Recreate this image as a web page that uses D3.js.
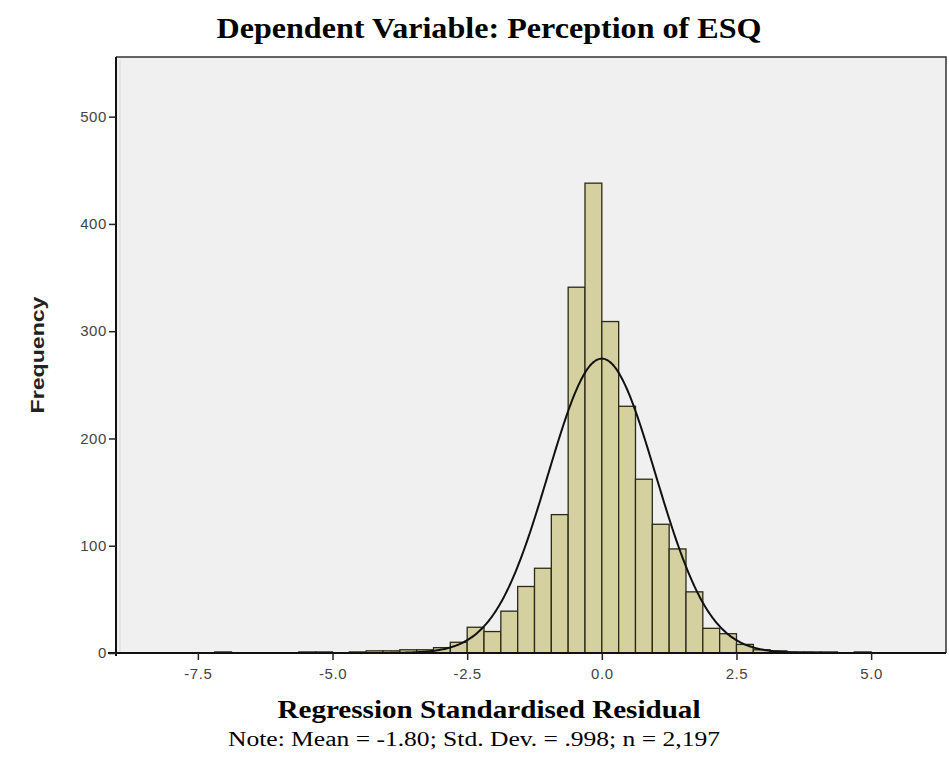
<!DOCTYPE html>
<html>
<head>
<meta charset="utf-8">
<script src="https://cdn.jsdelivr.net/npm/d3@7/dist/d3.min.js"></script>
<style>
  html, body { margin: 0; padding: 0; background: #ffffff; }
  svg { display: block; }
</style>
</head>
<body>
<svg id="chart" width="949" height="760"></svg>
<script>
// ---- data ----
const binWidth = 0.3125;
const binLower = [-7.1875, -5.625, -5.3125, -4.6875, -4.375, -4.0625, -3.75, -3.4375, -3.125, -2.8125,
                  -2.5, -2.1875, -1.875, -1.5625, -1.25, -0.9375, -0.625, -0.3125,
                  0, 0.3125, 0.625, 0.9375, 1.25, 1.5625, 1.875, 2.1875,
                  2.5, 2.8125, 3.125, 3.4375, 3.75, 4.0625, 4.6875];
const counts   = [1, 1, 1, 1, 2, 2, 3, 3, 5, 10,
                  24, 20, 39, 62, 79, 129, 341, 438,
                  309, 230, 162, 120, 97, 57, 23, 18,
                  8, 3, 2, 1, 1, 1, 1];
const xTicks = [-7.5, -5.0, -2.5, 0.0, 2.5, 5.0];
const xTickLabels = ["-7.5", "-5.0", "-2.5", "0.0", "2.5", "5.0"];
const yTicks = [0, 100, 200, 300, 400, 500];
const fitMean = 0.0;      // -1.80E-15, effectively zero
const fitSD = 0.998;
const fitN = 2197;
const titleText = "Dependent Variable: Perception of ESQ";
const xLabelText = "Regression Standardised Residual";
const noteText = "Note:  Mean = -1.80; Std. Dev. = .998; n = 2,197";
const yLabelText = "Frequency";

// ---- layout ----
const svg = d3.select("#chart");
const L = 116, R = 946, T = 57, B = 653;

const x = d3.scaleLinear().domain([-9.02, 6.39]).range([L, R]);
const y = d3.scaleLinear().domain([0, 555.6]).range([B, T]);

// plot background
svg.append("rect")
  .attr("x", L).attr("y", T).attr("width", R - L).attr("height", B - T)
  .attr("fill", "#f0f0f0");

// faint inner line beside the y axis
svg.append("line")
  .attr("x1", L + 4).attr("x2", L + 4).attr("y1", T + 3).attr("y2", B)
  .attr("stroke", "#d8d8d8").attr("stroke-width", 1);

// frame (top & right)
svg.append("path")
  .attr("d", `M${L},${T}H${R}V${B}`)
  .attr("fill", "none").attr("stroke", "#333").attr("stroke-width", 1.5);

// bars
const bins = binLower.map((b, i) => ({x0: b, x1: b + binWidth, n: counts[i]}));
svg.append("g").selectAll("rect").data(bins).join("rect")
  .attr("x", d => x(d.x0))
  .attr("y", d => y(d.n))
  .attr("width", d => x(d.x1) - x(d.x0))
  .attr("height", d => y(0) - y(d.n))
  .attr("fill", "#d5d0a0")
  .attr("stroke", "#2b2a18")
  .attr("stroke-width", 1.3);

// normal curve
const pdf = v => fitN * binWidth / (fitSD * Math.sqrt(2 * Math.PI)) *
                 Math.exp(-0.5 * Math.pow((v - fitMean) / fitSD, 2));
const xs = d3.range(-9.02, 6.39, 0.02);
svg.append("path")
  .datum(xs)
  .attr("d", d3.line().x(v => x(v)).y(v => y(pdf(v))).curve(d3.curveBasis))
  .attr("fill", "none").attr("stroke", "#111").attr("stroke-width", 2);

// axes
const tickFont = "Arial, 'Liberation Sans', sans-serif";
const xAxis = d3.axisBottom(x).tickValues(xTicks)
  .tickFormat((d, i) => xTickLabels[i]).tickSize(7).tickPadding(8);
const gx = svg.append("g").attr("transform", `translate(0,${B})`).call(xAxis);
gx.select(".domain").attr("d", `M${L - 8},0H${R}`).attr("stroke", "#111").attr("stroke-width", 2);
gx.selectAll(".tick line").attr("stroke", "#222").attr("stroke-width", 1.5);
gx.selectAll("text").attr("font-family", tickFont)
  .attr("font-size", 15).attr("letter-spacing", 0.6).attr("fill", "#444");

const yAxis = d3.axisLeft(y).tickValues(yTicks).tickFormat(d3.format("d")).tickSize(7).tickPadding(2);
const gy = svg.append("g").attr("transform", `translate(${L},0)`).call(yAxis);
gy.select(".domain").attr("d", `M0,${T}V${B + 3}`).attr("stroke", "#111").attr("stroke-width", 2);
gy.selectAll(".tick line").attr("stroke", "#222").attr("stroke-width", 1.5);
gy.selectAll("text").attr("font-family", tickFont)
  .attr("font-size", 15).attr("letter-spacing", 0.6).attr("fill", "#444");

// titles
svg.append("text")
  .attr("x", 489).attr("y", 38)
  .attr("text-anchor", "middle")
  .attr("font-family", "'Liberation Serif', 'Times New Roman', serif")
  .attr("font-weight", "bold").attr("font-size", 30)
  .attr("textLength", 545).attr("lengthAdjust", "spacingAndGlyphs")
  .text(titleText);

svg.append("text")
  .attr("x", 489).attr("y", 718)
  .attr("text-anchor", "middle")
  .attr("font-family", "'Liberation Serif', 'Times New Roman', serif")
  .attr("font-weight", "bold").attr("font-size", 25)
  .attr("textLength", 423).attr("lengthAdjust", "spacingAndGlyphs")
  .text(xLabelText);

svg.append("text")
  .attr("x", 474).attr("y", 746)
  .attr("text-anchor", "middle")
  .attr("font-family", "'Liberation Serif', 'Times New Roman', serif")
  .attr("font-size", 20)
  .attr("textLength", 492).attr("lengthAdjust", "spacingAndGlyphs")
  .text(noteText);

svg.append("text")
  .attr("transform", "translate(44,355) rotate(-90)")
  .attr("text-anchor", "middle")
  .attr("font-family", "Arial, 'Liberation Sans', sans-serif")
  .attr("font-weight", "bold").attr("font-size", 19)
  .attr("textLength", 117).attr("lengthAdjust", "spacingAndGlyphs")
  .attr("fill", "#222")
  .text(yLabelText);
</script>
</body>
</html>
